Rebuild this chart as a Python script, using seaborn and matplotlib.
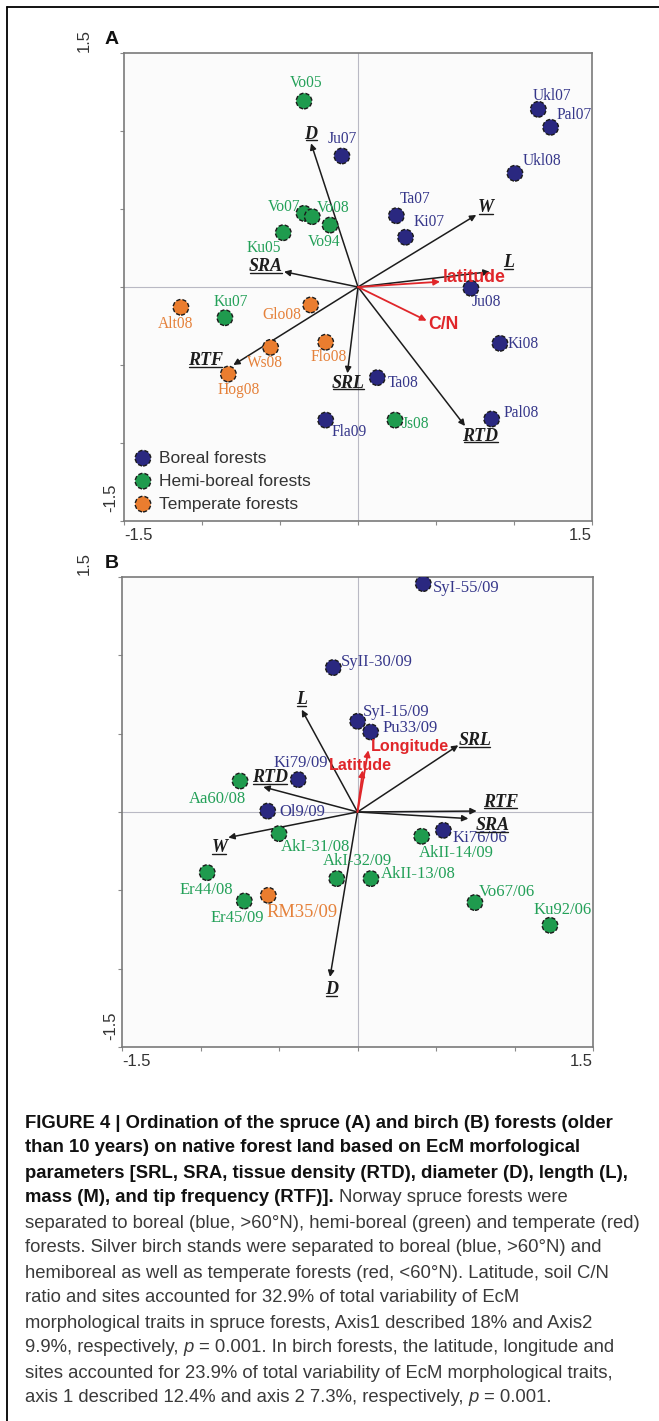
# ==========================================
# ECM ORDINATION BIPLOTS (SPRUCE / BIRCH)
# ==========================================

import numpy as np
import pandas as pd
import matplotlib
matplotlib.use("Agg")
import matplotlib.pyplot as plt
import seaborn as sns
from matplotlib import font_manager
from matplotlib.lines import Line2D
from matplotlib.transforms import IdentityTransform

# ==========================================
# DATA - PANEL A (spruce)
# ==========================================

a_sites = ["Vo05", "Ukl07", "Pal07", "Ju07", "Ukl08", "Ta07", "Ki07", "Vo07",
           "Vo08", "Vo94", "Ku05", "Ku07", "Alt08", "Glo08", "Ju08", "Ki08",
           "Ws08", "Flo08", "Hog08", "Ta08", "Fla09", "Js08", "Pal08"]
a_x = [-0.346, 1.156, 1.235, -0.103, 1.006, 0.246, 0.305, -0.346,
       -0.293, -0.179, -0.479, -0.853, -1.135, -0.303, 0.724, 0.910,
       -0.560, -0.207, -0.831, 0.124, -0.207, 0.237, 0.857]
a_y = [1.192, 1.139, 1.024, 0.840, 0.729, 0.457, 0.319, 0.472,
       0.451, 0.397, 0.348, -0.197, -0.130, -0.115, -0.008, -0.361,
       -0.387, -0.354, -0.558, -0.581, -0.853, -0.853, -0.846]
a_group = ["Hemi-boreal forests", "Boreal forests", "Boreal forests", "Boreal forests",
           "Boreal forests", "Boreal forests", "Boreal forests", "Hemi-boreal forests",
           "Hemi-boreal forests", "Hemi-boreal forests", "Hemi-boreal forests",
           "Hemi-boreal forests", "Temperate forests", "Temperate forests",
           "Boreal forests", "Boreal forests", "Temperate forests", "Temperate forests",
           "Temperate forests", "Boreal forests", "Boreal forests",
           "Hemi-boreal forests", "Boreal forests"]

a_traits = ["D", "W", "L", "SRA", "RTF", "SRL", "RTD"]
a_trait_x = [-0.301, 0.758, 0.844, -0.474, -0.799, -0.068, 0.686]
a_trait_y = [0.921, 0.462, 0.098, 0.098, -0.500, -0.553, -0.891]

a_env = ["latitude", "C/N"]
a_env_x = [0.526, 0.440]
a_env_y = [0.034, -0.216]

# ==========================================
# DATA - PANEL B (birch)
# ==========================================

b_sites = ["SyI-55/09", "SyII-30/09", "SyI-15/09", "Pu33/09", "Ki79/09", "Aa60/08",
           "Ol9/09", "AkI-31/08", "Ki76/06", "AkII-14/09", "AkI-32/09", "AkII-13/08",
           "Er44/08", "RM35/09", "Er45/09", "Vo67/06", "Ku92/06"]
b_x = [0.419, -0.154, 0.001, 0.084, -0.377, -0.748, -0.572, -0.500, 0.547,
       0.409, -0.132, 0.086, -0.957, -0.568, -0.721, 0.748, 1.226]
b_y = [1.458, 0.922, 0.579, 0.511, 0.207, 0.198, 0.006, -0.138, -0.117,
       -0.155, -0.425, -0.425, -0.387, -0.532, -0.568, -0.578, -0.723]
b_group = ["Boreal forests", "Boreal forests", "Boreal forests", "Boreal forests",
           "Boreal forests", "Hemi-boreal forests", "Boreal forests",
           "Hemi-boreal forests", "Boreal forests", "Hemi-boreal forests",
           "Hemi-boreal forests", "Hemi-boreal forests", "Hemi-boreal forests",
           "Temperate forests", "Hemi-boreal forests", "Hemi-boreal forests",
           "Hemi-boreal forests"]

b_traits = ["L", "SRL", "RTD", "RTF", "SRA", "W", "D"]
b_trait_x = [-0.355, 0.642, -0.600, 0.759, 0.706, -0.823, -0.175]
b_trait_y = [0.653, 0.426, 0.160, 0.006, -0.042, -0.163, -1.053]

b_env = ["Longitude", "Latitude"]
b_env_x = [0.069, 0.033]
b_env_y = [0.394, 0.266]

groups = ["Boreal forests", "Hemi-boreal forests", "Temperate forests"]

# ==========================================
# STYLE / LAYOUT
# ==========================================

palette = {"Boreal forests": "#2a2880",
           "Hemi-boreal forests": "#1f9b4e",
           "Temperate forests": "#ea7d2f"}
text_col = {"Boreal forests": "#36378a",
            "Hemi-boreal forests": "#23a058",
            "Temperate forests": "#e5813a"}
RED = "#e0262a"
DASH = (0, (3, 1.5))

# label offsets in pixels (dx, dy, ha)
a_lab = {"Vo05": (2, 18, "center"), "Ukl07": (-6, 13, "left"), "Pal07": (6, 12, "left"),
         "Ju07": (0, 17, "center"), "Ukl08": (8, 12, "left"), "Ta07": (3, 17, "left"),
         "Ki07": (8, 15, "left"), "Vo07": (-4, 6, "right"), "Vo08": (5, 9, "left"),
         "Vo94": (-6, -17, "center"), "Ku05": (-19, -15, "center"),
         "Ku07": (6, 16, "center"), "Alt08": (-5, -17, "center"),
         "Glo08": (-9, -10, "right"), "Ju08": (1, -14, "left"), "Ki08": (8, -1, "left"),
         "Ws08": (-6, -16, "center"), "Flo08": (3, -15, "center"),
         "Hog08": (10, -16, "center"), "Ta08": (10, -5, "left"),
         "Fla09": (6, -12, "left"), "Js08": (7, -4, "left"), "Pal08": (12, 6, "left")}
a_vlab = {"D": (0, 9, "center"), "W": (10, 7, "center"), "L": (19, 9, "center"),
          "SRA": (-1, 5, "right"), "RTF": (-10, 4.5, "right"), "SRL": (1, -10, "center"),
          "RTD": (15.5, -10.5, "center"), "latitude": (3, 4, "left"),
          "C/N": (2, -4, "left")}

b_lab = {"SyI-55/09": (10, -4, "left"), "SyII-30/09": (8, 6, "left"),
         "SyI-15/09": (5, 9.5, "left"), "Pu33/09": (12, 4, "left"),
         "Ki79/09": (2, 17, "center"), "Aa60/08": (-22.5, -18, "center"),
         "Ol9/09": (12, -1, "left"), "AkI-31/08": (2, -13, "left"),
         "Ki76/06": (9, -7.5, "left"), "AkII-14/09": (-2.5, -16.5, "left"),
         "AkI-32/09": (-13.5, 18, "left"), "AkII-13/08": (10, 5, "left"),
         "Er44/08": (-1, -17, "center"), "Er45/09": (-7, -17, "center"),
         "RM35/09": (-2, -17, "left"), "Vo67/06": (4, 11, "left"),
         "Ku92/06": (12.5, 15, "center")}
b_vlab = {"L": (0, 10, "center"), "SRL": (0, 4.5, "left"), "RTD": (7, 9, "center"),
          "RTF": (6, 9, "left"), "SRA": (7, -7, "left"), "W": (-9, -10, "center"),
          "D": (1.5, -13, "center"), "Longitude": (3, 4, "left"),
          "Latitude": (-2, 4.5, "center")}

sns.set_theme(style="white")
plt.rcParams['font.family'] = ['Liberation Sans', 'DejaVu Sans']

W, H = 659, 1421
fig = plt.figure(figsize=(W / 100, H / 100), dpi=100)


def fx(px):
    return px / W


def fy(py):
    return 1 - py / H


ax_a = fig.add_axes([fx(124), fy(521), 468 / W, 468 / H])
ax_b = fig.add_axes([fx(122), fy(1047), 471 / W, 470 / H])

underlined = []


def draw_panel(ax, sites, xs, ys, grp, traits, tx, ty, env, ex, ey,
               lab, vlab, site_size, env_size):
    ax.set_facecolor("#fbfbfb")
    ax.axhline(0, color="#b9b9c4", lw=0.8, zorder=0)
    ax.axvline(0, color="#b9b9c4", lw=0.8, zorder=0)

    for name, x, y in zip(traits, tx, ty):
        ax.annotate("", xy=(x, y), xytext=(0, 0),
                    arrowprops=dict(arrowstyle="-|>", color="#1c1c1c", lw=1.1,
                                    mutation_scale=9, shrinkA=0, shrinkB=0),
                    zorder=2)
        dx, dy, ha = vlab[name]
        t = ax.annotate(name, (x, y), xytext=(dx, dy), textcoords="offset pixels",
                        ha=ha, va="center", fontsize=13, color="#1c1c1c",
                        family="Liberation Serif", weight="bold", style="italic",
                        zorder=5)
        underlined.append(t)

    for name, x, y in zip(env, ex, ey):
        ax.annotate("", xy=(x, y), xytext=(0, 0),
                    arrowprops=dict(arrowstyle="-|>", color=RED, lw=1.3,
                                    mutation_scale=9, shrinkA=0, shrinkB=0),
                    zorder=2)
        dx, dy, ha = vlab[name]
        ax.annotate(name, (x, y), xytext=(dx, dy), textcoords="offset pixels",
                    ha=ha, va="center", fontsize=env_size, color=RED,
                    weight="bold", zorder=5)

    df = pd.DataFrame({"x": xs, "y": ys, "group": grp, "site": sites})
    sns.scatterplot(data=df, x="x", y="y", hue="group", hue_order=groups,
                    palette=palette, s=125, edgecolor="#1a1a1a", linewidth=1.0,
                    linestyle=DASH, legend=False, zorder=3, ax=ax)

    for name, x, y, g in zip(sites, xs, ys, grp):
        dx, dy, ha = lab[name]
        size = site_size + (1.3 if g == "Temperate forests" and ax is ax_b else 0)
        ax.annotate(name, (x, y), xytext=(dx, dy), textcoords="offset pixels",
                    ha=ha, va="center", fontsize=size, color=text_col[g],
                    family="Liberation Serif", zorder=4)

    ax.set_xlim(-1.5, 1.5)
    ax.set_ylim(-1.5, 1.5)
    ax.set_xticks(np.arange(-1.5, 1.51, 0.5))
    ax.set_yticks(np.arange(-1.5, 1.51, 0.5))
    ax.set_xticklabels([])
    ax.set_yticklabels([])
    ax.tick_params(direction="out", length=3, width=0.8, color="#8a8a8a",
                   bottom=True, left=True)
    ax.set_xlabel("")
    ax.set_ylabel("")
    for sp in ax.spines.values():
        sp.set_color("#7a7a7a")
        sp.set_linewidth(1.2)


draw_panel(ax_a, a_sites, a_x, a_y, a_group, a_traits, a_trait_x, a_trait_y,
           a_env, a_env_x, a_env_y, a_lab, a_vlab, 11.2, 12.7)
draw_panel(ax_b, b_sites, b_x, b_y, b_group, b_traits, b_trait_x, b_trait_y,
           b_env, b_env_x, b_env_y, b_lab, b_vlab, 12, 11.6)

# legend (panel A)
handles = [ax_a.scatter([], [], s=125, color=palette[g], edgecolor="#1a1a1a",
                        linewidth=1.0, linestyle=DASH) for g in groups]
ax_a.legend(handles, groups, loc="lower left", bbox_to_anchor=(0.022, 0.02),
            frameon=False, borderpad=0, borderaxespad=0, handlelength=1.0,
            handletextpad=0.4, labelspacing=0.45, fontsize=12.5,
            labelcolor="#333333")

# ==========================================
# AXIS END LABELS AND PANEL LETTERS
# ==========================================

tick_kw = dict(fontsize=12, color="#333333", va="center")
for top, bottom, left, right, label in [(53, 521, 124, 592, "A"),
                                        (577, 1047, 122, 593, "B")]:
    fig.text(fx(left), fy(bottom + 15), "-1.5", ha="left", **tick_kw)
    fig.text(fx(right), fy(bottom + 15), "1.5", ha="right", **tick_kw)
    fig.text(fx(84), fy(top - 13), "1.5", ha="center", rotation=90, **tick_kw)
    fig.text(fx(111), fy(bottom - 23 if label == "A" else bottom - 21), "-1.5",
             ha="center", rotation=90, **tick_kw)
    fig.text(fx(112), fy(top - 14), label, ha="center", va="center",
             fontsize=14, weight="bold", color="#111111")

# figure frame (top and left rules)
fig.add_artist(Line2D([fx(7), 1], [fy(7), fy(7)], color="black", lw=1.3))
fig.add_artist(Line2D([fx(7), fx(7)], [fy(7), 0], color="black", lw=1.3))

# ==========================================
# CAPTION
# ==========================================

names = {f.name for f in font_manager.fontManager.ttflist}
cap_family = "Liberation Sans Narrow" if "Liberation Sans Narrow" in names else "Liberation Sans"
cap_size = 15.5 if cap_family == "Liberation Sans Narrow" else 13.3

BOLD = dict(weight="bold", color="#111111")
NORM = dict(color="#3a3a3a")
ITAL = dict(style="italic", color="#3a3a3a")

caption = [
    [("FIGURE 4 | Ordination of the spruce (A) and birch (B) forests (older", BOLD, False)],
    [("than 10 years) on native forest land based on EcM morfological", BOLD, False)],
    [("parameters [SRL, SRA, tissue density (RTD), diameter (D), length (L),", BOLD, False)],
    [("mass (M), and tip frequency (RTF)].", BOLD, False),
     ("Norway spruce forests were", NORM, True)],
    [("separated to boreal (blue, >60°N), hemi-boreal (green) and temperate (red)", NORM, False)],
    [("forests. Silver birch stands were separated to boreal (blue, >60°N) and", NORM, False)],
    [("hemiboreal as well as temperate forests (red, <60°N). Latitude, soil C/N", NORM, False)],
    [("ratio and sites accounted for 32.9% of total variability of EcM", NORM, False)],
    [("morphological traits in spruce forests, Axis1 described 18% and Axis2", NORM, False)],
    [("9.9%, respectively,", NORM, False), ("p", ITAL, True),
     ("= 0.001. In birch forests, the latitude, longitude and", NORM, True)],
    [("sites accounted for 23.9% of total variability of EcM morphological traits,", NORM, False)],
    [("axis 1 described 12.4% and axis 2 7.3%, respectively,", NORM, False),
     ("p", ITAL, True), ("= 0.001.", NORM, True)],
]

renderer = fig.canvas.get_renderer()


def text_width(s, style):
    t = fig.text(0, 0, s, fontsize=cap_size, family=cap_family, **style)
    w = t.get_window_extent(renderer=renderer).width
    t.remove()
    return w


space_w = text_width("x x", NORM) - text_width("xx", NORM)

for i, runs in enumerate(caption):
    x = 25
    y = 1123 + 25 * i
    for txt, style, space_before in runs:
        if space_before:
            x += space_w
        t = fig.text(fx(x), fy(y), txt, ha="left", va="center",
                     fontsize=cap_size, family=cap_family, **style)
        x += t.get_window_extent(renderer=renderer).width

# ==========================================
# UNDERLINE TRAIT LABELS
# ==========================================

fig.canvas.draw()
for t in underlined:
    bb = t.get_window_extent(renderer=renderer)
    fig.add_artist(Line2D([bb.x0 + 1, bb.x1 - 1], [bb.y0 + 2.5, bb.y0 + 2.5],
                          transform=IdentityTransform(), color="#1c1c1c", lw=1.0))

fig.savefig("out.png", dpi=100)
